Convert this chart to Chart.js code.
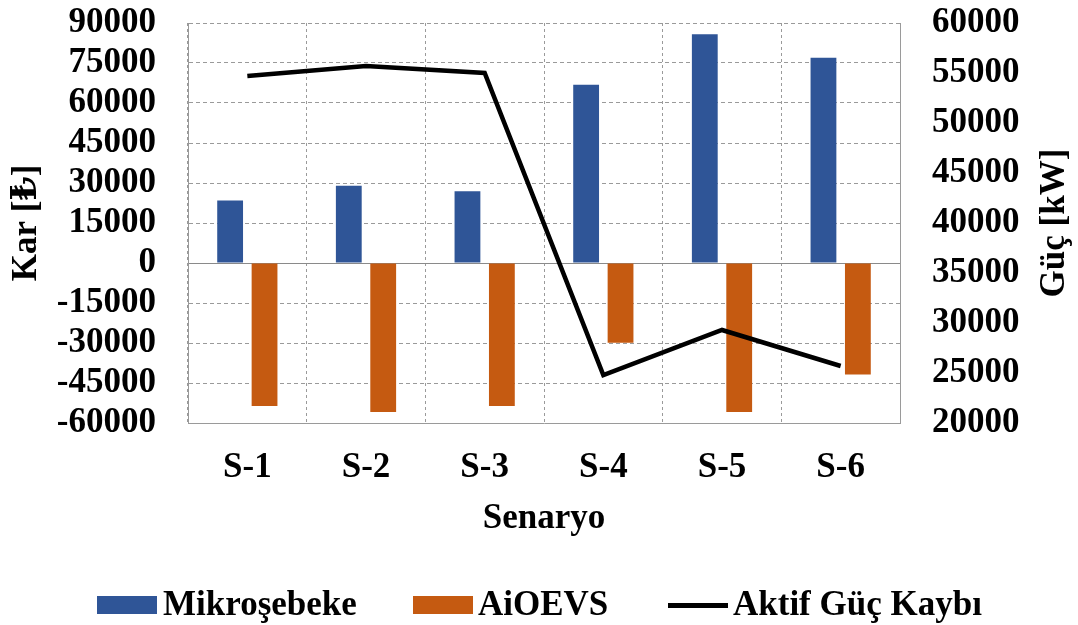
<!DOCTYPE html>
<html>
<head>
<meta charset="utf-8">
<script src="https://cdn.jsdelivr.net/npm/chart.js@4.4.1/dist/chart.umd.min.js"></script>
<style>
  html, body { margin: 0; padding: 0; background: #fff; }
  #wrap { position: relative; width: 1078px; height: 625px; }
  #legend { position: absolute; left: 0; top: 582px; width: 1078px; height: 43px;
    font: bold 35px "Liberation Serif", "DejaVu Serif", serif; color: #000; }
  #legend .sw { position: absolute; }
  #legend .tx { position: absolute; top: 0; line-height: 43px; white-space: nowrap; }
</style>
</head>
<body>
<div id="wrap">
  <canvas id="myChart" width="1078" height="625"></canvas>
  <div id="legend">
    <div class="sw" style="left:97px;top:14px;width:60px;height:18px;background:#2F5597"></div>
    <div class="tx" style="left:163px">Mikroşebeke</div>
    <div class="sw" style="left:413px;top:14px;width:60px;height:18px;background:#C55A11"></div>
    <div class="tx" style="left:478px">AiOEVS</div>
    <div class="sw" style="left:668px;top:21px;width:60px;height:5px;background:#000"></div>
    <div class="tx" style="left:733px">Aktif Güç Kaybı</div>
  </div>
</div>
<script>
const categories = ['S-1', 'S-2', 'S-3', 'S-4', 'S-5', 'S-6'];
const mikrosebeke = [23400, 29000, 26900, 66800, 85800, 77000];
const aioevs = [-53600, -55900, -53600, -29900, -55900, -41800];
const aktifGucKaybi = [54700, 55700, 55000, 24800, 29300, 25700];

const FONT = '"Liberation Serif", "DejaVu Serif", serif';

// right axis title, reads bottom-to-top like the left one
const rightTitle = {
    id: 'rightTitle',
    afterDraw(chart) {
        const {ctx, chartArea} = chart;
        ctx.save();
        ctx.translate(1055, (chartArea.top + chartArea.bottom) / 2);
        ctx.rotate(-Math.PI / 2);
        ctx.font = 'bold 35px ' + FONT;
        ctx.fillStyle = '#000';
        ctx.textAlign = 'center';
        ctx.textBaseline = 'middle';
        ctx.fillText('Güç [kW]', 0, 0);
        ctx.restore();
    }
}

new Chart(document.getElementById('myChart'), {
    type: 'bar',
    data: {
        labels: categories,
        datasets: [
            {
                type: 'line',
                label: 'Aktif Güç Kaybı',
                data: aktifGucKaybi,
                yAxisID: 'y1',
                borderColor: '#000',
                borderWidth: 4.5,
                pointRadius: 0,
                tension: 0,
                order: 0
            },
            {
                label: 'Mikroşebeke',
                data: mikrosebeke,
                backgroundColor: '#2F5597',
                yAxisID: 'y',
                order: 1
            },
            {
                label: 'AiOEVS',
                data: aioevs,
                backgroundColor: '#C55A11',
                yAxisID: 'y',
                order: 1
            }
        ]
    },
    options: {
        responsive: false,
        animation: false,
        layout: { padding: { top: 23, bottom: 50, left: 0, right: 0 } },
        categoryPercentage: 0.58,
        barPercentage: 0.75,
        plugins: {
            legend: { display: false },
            tooltip: { enabled: false }
        },
        scales: {
            x: {
                grid: { color: '#9a9a9a', drawTicks: false, offset: true },
                border: { color: '#9a9a9a', dash: [3, 3] },
                ticks: { color: '#000', padding: 24, font: { family: FONT, size: 35, weight: 'bold' } },
                title: { display: true, text: 'Senaryo', color: '#000', padding: { top: 0, bottom: 35 },
                    font: { family: FONT, size: 35, weight: 'bold' } },
                afterFit(scale) { scale.height = 152; }
            },
            y: {
                position: 'left',
                min: -60000,
                max: 90000,
                grid: {
                    drawTicks: false,
                    color: ctx => (ctx.tick && ctx.tick.value === 0) ? '#8a8a8a' : '#9a9a9a'
                },
                border: {
                    color: '#9a9a9a',
                    dash: ctx => (ctx.tick && ctx.tick.value === 0) ? [] : [4, 3]
                },
                ticks: {
                    stepSize: 15000,
                    autoSkip: false,
                    color: '#000',
                    padding: 32,
                    font: { family: FONT, size: 35, weight: 'bold' },
                    callback: v => String(v)
                },
                title: { display: true, text: 'Kar [₺]', color: '#000', padding: { top: 6, bottom: 0 },
                    font: { family: FONT, size: 35, weight: 'bold' } },
                afterFit(scale) { scale.width = 188; scale.paddingTop = 0; scale.paddingBottom = 0; }
            },
            y1: {
                position: 'right',
                min: 20000,
                max: 60000,
                grid: { drawOnChartArea: false, drawTicks: false },
                border: { color: '#9a9a9a', dash: [4, 3] },
                ticks: {
                    stepSize: 5000,
                    autoSkip: false,
                    color: '#000',
                    padding: 32,
                    font: { family: FONT, size: 35, weight: 'bold' },
                    callback: v => String(v)
                },
                afterFit(scale) { scale.width = 178; scale.paddingTop = 0; scale.paddingBottom = 0; }
            }
        }
    },
    plugins: [rightTitle]
});
</script>
</body>
</html>
